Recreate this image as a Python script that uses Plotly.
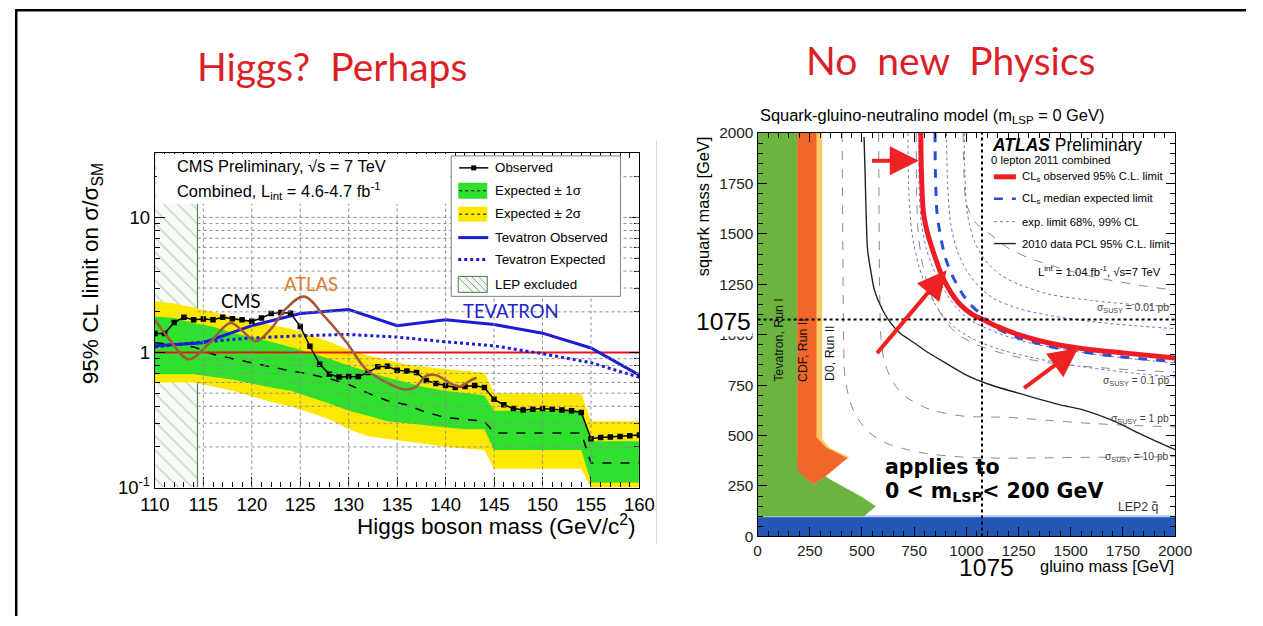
import math
import plotly.graph_objects as go

W, H = 1263, 626
# the photographed page comes out slightly reduced and shifted; lay out in pre-compensated coordinates
S = 0.9735
OX, OY = 15.3, 7.5

# ======================= LEFT PANEL DATA (CMS Higgs) =======================
obs_mass = list(range(110, 161))
obs_limit = [1.38, 1.38, 1.67, 1.82, 1.75, 1.77, 1.75, 1.82, 1.78, 1.75,
             1.70, 1.80, 1.94, 1.98, 1.95, 1.56, 1.11, 0.82, 0.69, 0.66,
             0.665, 0.665, 0.71, 0.785, 0.79, 0.74, 0.73, 0.71, 0.62, 0.59,
             0.57, 0.55, 0.56, 0.57, 0.55, 0.45, 0.41, 0.385, 0.375, 0.38,
             0.385, 0.38, 0.376, 0.37, 0.36, 0.23, 0.235, 0.237, 0.239, 0.242, 0.245]

band_mass = [110, 112, 114, 116, 118, 120, 122, 124, 126, 128, 130, 132, 134, 136,
             138, 140, 142, 144, 145, 154, 155, 160]
yellow_up = [2.4, 2.3, 2.15, 2.0, 1.85, 1.7, 1.6, 1.5, 1.35, 1.2, 1.05, 0.95, 0.88, 0.82,
             0.78, 0.75, 0.73, 0.71, 0.5, 0.5, 0.31, 0.31]
green_up = [1.85, 1.8, 1.65, 1.55, 1.4, 1.3, 1.2, 1.1, 1.0, 0.9, 0.8, 0.72, 0.65, 0.6,
            0.55, 0.52, 0.5, 0.48, 0.37, 0.37, 0.22, 0.22]
exp_median = [1.18, 1.15, 1.1, 0.97, 0.9, 0.84, 0.78, 0.73, 0.69, 0.64, 0.58, 0.5, 0.44, 0.41,
              0.36, 0.33, 0.32, 0.31, 0.254, 0.254, 0.152, 0.152]
green_lo = [0.69, 0.69, 0.69, 0.66, 0.63, 0.59, 0.55, 0.52, 0.47, 0.42, 0.37, 0.34, 0.31, 0.30,
            0.29, 0.28, 0.27, 0.27, 0.19, 0.19, 0.109, 0.109]
yellow_lo = [0.6, 0.6, 0.6, 0.56, 0.52, 0.47, 0.43, 0.40, 0.36, 0.32, 0.27, 0.24, 0.23, 0.22,
             0.21, 0.20, 0.195, 0.19, 0.138, 0.138, 0.1, 0.1]

tev_mass = [110, 115, 120, 125, 130, 135, 140, 145, 150, 155, 160]
tev_obs = [1.12, 1.18, 1.58, 1.94, 2.08, 1.58, 1.75, 1.61, 1.39, 1.08, 0.68]
tev_exp = [1.10, 1.20, 1.28, 1.33, 1.36, 1.30, 1.20, 1.12, 0.98, 0.84, 0.655]

atlas_mass = [110, 111.5, 113.5, 115.5, 117.8, 119, 120.4, 122, 123.5, 125.4, 127.5,
              129.8, 131.8, 133.9, 135.6, 136.8, 138, 139, 140.7, 141.5, 142.7, 143.2]
atlas_limit = [1.75, 1.25, 0.89, 1.15, 1.65, 1.45, 1.21, 1.5, 2.1, 2.6, 1.85,
               1.18, 0.75, 0.6, 0.535, 0.55, 0.67, 0.68, 0.58, 0.56, 0.63, 0.65]

lep_edge = 114.4
sm_level = 1.0
left_xrange = [110, 160]
left_yrange = [0.1, 30]
left_xticks = [110, 115, 120, 125, 130, 135, 140, 145, 150, 155, 160]
left_yticks = [0.1, 1, 10]
left_yticktext = ['10<sup>-1</sup>', '1', '10']
left_yminor = [0.2, 0.3, 0.4, 0.5, 0.6, 0.7, 0.8, 0.9, 2, 3, 4, 5, 6, 7, 8, 9, 20, 30]
left_ygrid = [0.2, 0.3, 0.4, 0.5, 0.6, 0.7, 0.8, 0.9, 2, 3, 4, 5, 6, 7, 8, 9, 10, 20]

# ======================= RIGHT PANEL DATA (ATLAS SUSY) =======================
right_range = [0, 2000]
right_ticks = [0, 250, 500, 750, 1000, 1250, 1500, 1750, 2000]
ref_mass = 1075

obs_gl = [782, 785, 795, 815, 845, 880, 920, 970, 1030, 1090, 1150, 1250, 1350, 1450, 1550, 1700, 1850, 2000]
obs_sq = [2000, 1800, 1600, 1500, 1400, 1300, 1220, 1150, 1100, 1070, 1040, 1000, 970, 948, 932, 915, 900, 885]

exp_gl = [850, 852, 860, 878, 900, 930, 965, 1010, 1060, 1100, 1150, 1250, 1350, 1450, 1550, 1700, 1850, 2000]
exp_sq = [2000, 1800, 1600, 1480, 1380, 1300, 1230, 1160, 1110, 1068, 1030, 985, 955, 930, 915, 895, 880, 866]

m1s_gl = [772, 775, 785, 810, 845, 895, 955, 1025, 1100, 1200, 1300, 1450, 1600, 1800, 2000]
m1s_sq = [2000, 1700, 1550, 1420, 1320, 1220, 1130, 1070, 1030, 990, 960, 930, 905, 880, 860]
p1s_gl = [905, 910, 925, 955, 1000, 1060, 1130, 1250, 1400, 1600, 1800, 2000]
p1s_sq = [2000, 1750, 1550, 1420, 1320, 1240, 1180, 1130, 1095, 1065, 1045, 1030]
m2s_gl = [720, 725, 740, 770, 810, 870, 940, 1030, 1150, 1300, 1500, 1750, 2000]
m2s_sq = [2000, 1700, 1500, 1350, 1230, 1120, 1040, 980, 930, 890, 850, 815, 790]
p2s_gl = [990, 993, 1005, 1040, 1090, 1160, 1250, 1400, 1600, 1800, 2000]
p2s_sq = [2000, 1800, 1600, 1460, 1370, 1300, 1250, 1200, 1170, 1150, 1140]

pcl_gl = [510, 515, 520, 527, 545, 560, 600, 640, 680, 750, 800, 900, 1000, 1100, 1250, 1450, 1550, 1700, 1850, 2000]
pcl_sq = [1980, 1800, 1600, 1420, 1300, 1220, 1120, 1055, 1010, 960, 923, 860, 800, 757, 710, 652, 630, 575, 500, 430]

xs10_gl = [405, 408, 412, 418, 440, 470, 530, 600, 700, 800, 1000, 1200, 1400, 1600, 2000]
xs10_sq = [2000, 1500, 1000, 800, 680, 600, 520, 470, 435, 412, 392, 388, 390, 392, 395]
xs1_gl = [580, 582, 585, 590, 605, 640, 700, 800, 900, 1000, 1200, 1400, 1600, 1800, 2000]
xs1_sq = [2000, 1600, 1200, 1000, 880, 780, 700, 640, 610, 595, 590, 575, 560, 550, 543]
xs01_gl = [760, 762, 770, 790, 830, 880, 950, 1050, 1200, 1400, 1600, 1800, 2000]
xs01_sq = [2000, 1700, 1500, 1350, 1200, 1100, 1010, 950, 900, 860, 840, 825, 815]
xs001_gl = [985, 988, 1000, 1040, 1100, 1200, 1300, 1450, 1612, 1800, 2000]
xs001_sq = [2000, 1800, 1650, 1560, 1510, 1430, 1380, 1330, 1286, 1250, 1220]

tevrun1_gl = [0, 0, 195, 195, 267, 326, 350, 494, 566, 510]
tevrun1_sq = [100, 2000, 2000, 331, 257, 298, 281, 199, 150, 100]
d0_gl = [190, 310, 310, 345, 440, 430, 190]
d0_sq = [2000, 2000, 480, 440, 392, 385, 400]
cdf_gl = [190, 282, 282, 300, 330, 430, 326, 267, 190]
cdf_sq = [2000, 2000, 490, 470, 440, 388, 298, 257, 331]
lep2_gl = [0, 2000, 2000, 0]
lep2_sq = [0, 0, 100, 100]

# ======================= helpers (target pixel -> paper) =======================
def px(x):
    return min(max(((x - OX) / S) / W, 0.0005), 0.9995)


def py(y):
    return 1 - min(max(((y - OY) / S) / H, 0.0008), 0.9992)


def fs(n):
    return n / S


XL = dict(xaxis='x', yaxis='y')
XR = dict(xaxis='x2', yaxis='y2')
ROOT = 'Liberation Sans'

fig = go.Figure()

# ---------------- left traces ----------------
fig.add_trace(go.Scatter(
    x=[left_xrange[0], lep_edge, lep_edge, left_xrange[0]],
    y=[left_yrange[0], left_yrange[0], left_yrange[1], left_yrange[1]],
    fill='toself', mode='lines', line=dict(width=0, color='rgba(0,0,0,0)'),
    fillcolor='white',
    fillpattern=dict(shape='\\', fgcolor='#86a386', bgcolor='#f7faf7', size=10, solidity=0.12),
    **XL))
fig.add_trace(go.Scatter(x=[lep_edge, lep_edge], y=left_yrange, mode='lines',
                         line=dict(color='#3f8a3f', width=1.2), **XL))
fig.add_trace(go.Scatter(x=band_mass + band_mass[::-1], y=yellow_up + yellow_lo[::-1],
                         fill='toself', fillcolor='#ffe800', mode='lines', line=dict(width=0), **XL))
fig.add_trace(go.Scatter(x=band_mass + band_mass[::-1], y=green_up + green_lo[::-1],
                         fill='toself', fillcolor='#2fe02f', mode='lines', line=dict(width=0), **XL))
fig.add_trace(go.Scatter(x=band_mass, y=exp_median, mode='lines',
                         line=dict(color='black', width=1.5, dash='dash'), **XL))
fig.add_trace(go.Scatter(x=left_xrange, y=[sm_level, sm_level], mode='lines',
                         line=dict(color='#e8141c', width=2), **XL))
fig.add_trace(go.Scatter(x=tev_mass, y=tev_exp, mode='lines',
                         line=dict(color='#1c1cd6', width=3, dash='dot'), **XL))
fig.add_trace(go.Scatter(x=tev_mass, y=tev_obs, mode='lines',
                         line=dict(color='#1c1cd6', width=3), **XL))
fig.add_trace(go.Scatter(x=obs_mass, y=obs_limit, mode='lines+markers',
                         line=dict(color='black', width=1.5),
                         marker=dict(symbol='square', size=5.5, color='black'), **XL))
fig.add_trace(go.Scatter(x=atlas_mass, y=atlas_limit, mode='lines',
                         line=dict(color='#a4583a', width=2.5, shape='spline', smoothing=1.0), **XL))

# ---------------- right traces ----------------
def poly(gx, gy, color):
    fig.add_trace(go.Scatter(x=gx, y=gy, fill='toself', fillcolor=color, mode='lines',
                             line=dict(width=0), **XR))


poly(lep2_gl, lep2_sq, '#2456b8')
fig.add_trace(go.Scatter(x=right_range, y=[lep2_sq[2], lep2_sq[2]], mode='lines',
                         line=dict(color='#a9cdf2', width=2), **XR))
poly(tevrun1_gl, tevrun1_sq, '#6cb33f')
poly(d0_gl, d0_sq, '#f8c868')
poly(cdf_gl, cdf_sq, '#f2662a')

for gx, gy in [(xs10_gl, xs10_sq), (xs1_gl, xs1_sq), (xs01_gl, xs01_sq), (xs001_gl, xs001_sq)]:
    fig.add_trace(go.Scatter(x=gx, y=gy, mode='lines',
                             line=dict(color='#8a8a8a', width=1, dash='dash', shape='spline', smoothing=0.8), **XR))
fig.add_trace(go.Scatter(x=pcl_gl, y=pcl_sq, mode='lines',
                         line=dict(color='#222222', width=1.4, shape='spline', smoothing=0.8), **XR))
for gx, gy in [(m2s_gl, m2s_sq), (m1s_gl, m1s_sq), (p1s_gl, p1s_sq), (p2s_gl, p2s_sq)]:
    fig.add_trace(go.Scatter(x=gx, y=gy, mode='lines',
                             line=dict(color='#6d6fd8', width=1, dash='dot', shape='spline', smoothing=0.8), **XR))
fig.add_trace(go.Scatter(x=exp_gl, y=exp_sq, mode='lines',
                         line=dict(color='#2a4fd6', width=3, dash='dash', shape='spline', smoothing=0.8), **XR))
fig.add_trace(go.Scatter(x=obs_gl, y=obs_sq, mode='lines',
                         line=dict(color='#ee1c25', width=5, shape='spline', smoothing=0.8), **XR))

# ---------------- shapes ----------------
shapes = []


def pline(x0, y0, x1, y1, color, width, dash=None):
    ln = dict(color=color, width=width)
    if dash:
        ln['dash'] = dash
    shapes.append(dict(type='line', xref='paper', yref='paper', x0=px(x0), x1=px(x1), y0=py(y0), y1=py(y1),
                       line=ln, layer='above'))


def prect(x0, y0, x1, y1, fill, lcolor=None, lwidth=0):
    shapes.append(dict(type='rect', xref='paper', yref='paper', x0=px(x0), x1=px(x1), y0=py(y0), y1=py(y1),
                       fillcolor=fill, line=dict(color=lcolor or fill, width=lwidth), layer='above'))


# slide border (as close to the edge as the page allows)
shapes.append(dict(type='line', xref='paper', yref='paper', x0=0.001, x1=0.001, y0=0, y1=1,
                   line=dict(color='black', width=2.5), layer='above'))
shapes.append(dict(type='line', xref='paper', yref='paper', x0=0, x1=1, y0=0.998, y1=0.998,
                   line=dict(color='black', width=2.5), layer='above'))
pline(656, 140, 656, 545, '#d8d8d8', 1)
# left grid (drawn above the bands like ROOT)
for xv in left_xticks[1:-1]:
    shapes.append(dict(type='line', xref='x', yref='y', x0=xv, x1=xv, y0=left_yrange[0], y1=left_yrange[1],
                       line=dict(color='#8c8c8c', width=1, dash='dot'), layer='above'))
for yv in left_ygrid:
    shapes.append(dict(type='line', xref='x', yref='y', x0=lep_edge, x1=left_xrange[1], y0=yv, y1=yv,
                       line=dict(color='#8c8c8c', width=1, dash='dot'), layer='above'))
# header box and legend box
prect(157, 153, 450, 203, 'white')
prect(451, 155, 620, 296, 'white', '#808080', 1)
# legend samples left
pline(459, 167, 488, 167, 'black', 1.5)
prect(471, 164.5, 476, 169.5, 'black')
prect(458, 182, 487, 198, '#2fe02f')
pline(459, 190, 486, 190, 'black', 1, 'dot')
prect(458, 206, 487, 221, '#ffe800')
pline(459, 213.5, 486, 213.5, 'black', 1, 'dot')
pline(458, 237, 488, 237, '#1c1cd6', 3)
pline(458, 259, 488, 259, '#1c1cd6', 3, 'dot')
prect(458, 276, 487, 292, '#f4f8f4', '#3f7f3f', 1)
for k in range(5):
    x0 = 458 + k * 7
    x1 = min(x0 + 15, 487)
    pline(x0, 277, x1, 277 + 15 * (x1 - x0) / 15, '#86a386', 1)
# right dotted reference lines
shapes.append(dict(type='line', xref='x2', yref='y2', x0=right_range[0], x1=right_range[1], y0=ref_mass, y1=ref_mass,
                   line=dict(color='black', width=2, dash='dot'), layer='above'))
shapes.append(dict(type='line', xref='x2', yref='y2', x0=ref_mass, x1=ref_mass, y0=right_range[0], y1=right_range[1],
                   line=dict(color='black', width=2, dash='dot'), layer='above'))
# right legend samples
pline(993, 176, 1015, 176, '#ee1c25', 5)
pline(993, 198, 1015, 198, '#2a4fd6', 2.5, 'dash')
pline(993, 221, 1015, 221, '#6d6fd8', 1, 'dot')
pline(993, 243, 1015, 243, '#222222', 1.4)

# ---------------- annotations ----------------
ann = []


def txt(x, y, s, size=13, color='black', family=ROOT, xanchor='left', angle=0, bg=None):
    d = dict(xref='paper', yref='paper', x=px(x), y=py(y), text=s, showarrow=False,
             font=dict(family=family, size=fs(size), color=color), xanchor=xanchor, yanchor='middle',
             textangle=angle)
    if bg:
        d['bgcolor'] = bg
    ann.append(d)


TITLE = 'Lato'
txt(332, 64, 'Higgs?  Perhaps', size=38, color='#dc1f26', family=TITLE, xanchor='center')
txt(950, 58, 'No  new  Physics', size=38, color='#dc1f26', family=TITLE, xanchor='center')

# left panel texts
txt(175, 165, 'CMS Preliminary, √s = 7 TeV', size=16)
txt(175, 190, 'Combined, L<sub>int</sub> = 4.6-4.7 fb<sup>-1</sup>', size=16)
txt(241, 301, 'CMS', size=18, family=TITLE, xanchor='center')
txt(311, 284, 'ATLAS', size=18, color='#e07a2e', family=TITLE, xanchor='center')
txt(511, 311, 'TEVATRON', size=18, color='#2222c8', family=TITLE, xanchor='center')
legL = ['Observed', 'Expected ± 1σ', 'Expected ± 2σ', 'Tevatron Observed', 'Tevatron Expected', 'LEP excluded']
legY = [167, 190, 213, 237, 259, 284]
for s, yy in zip(legL, legY):
    txt(493, yy, s, size=13)
txt(638, 526, 'Higgs boson mass (GeV/c<sup>2</sup>)', size=22, xanchor='right')
txt(93, 273, '95% CL limit on σ/σ<sub>SM</sub>', size=22, xanchor='center', angle=-90)

# right panel texts
txt(757, 115, 'Squark-gluino-neutralino model (m<sub>LSP</sub> = 0 GeV)', size=16)
txt(702, 206, 'squark mass [GeV]', size=16, xanchor='center', angle=-90)
txt(1175, 567, 'gluino mass [GeV]', size=16, xanchor='right')
txt(989, 144, '<b><i>ATLAS</i></b> Preliminary', size=17)
txt(988, 159, '0 lepton 2011 combined', size=11)
legR = ['CL<sub>s</sub> observed 95% C.L. limit', 'CL<sub>s</sub> median expected limit',
        'exp. limit 68%, 99% CL', '2010 data PCL 95% C.L. limit']
for s, yy in zip(legR, [176, 198, 221, 243]):
    txt(1019, yy, s, size=11)
txt(1162, 271, 'L<sup>int</sup> = 1.04 fb<sup>-1</sup>, √s=7 TeV', size=11, xanchor='right')
for s, yy in [('0.01', 308), ('0.1', 381), ('1', 420), ('10', 458)]:
    txt(1170, yy, 'σ<sub>SUSY</sub> = ' + s + ' pb', size=10, color='#444444', xanchor='right')
txt(1160, 507, 'LEP2 q\u0303', size=12, color='#333333', xanchor='right')
txt(882, 467, '<b>applies to</b>', size=20, family='DejaVu Sans')
txt(882, 492, '<b>0 < m<sub>LSP</sub>< 200 GeV</b>', size=20, family='DejaVu Sans')
txt(723, 321, '1075', size=24, xanchor='center', bg='white')
txt(986, 568, '1075', size=24, xanchor='center')

for lab, gx, gy in [('Tevatron, Run I', 101, 973), ('CDF, Run II', 221, 923), ('D0, Run II', 350, 908)]:
    ann.append(dict(xref='x2', yref='y2', x=gx, y=gy, text=lab, showarrow=False, textangle=-90,
                    font=dict(family=ROOT, size=fs(12), color='#111111')))

for hx, hy, ax, ay in [(772, 1862, -47, 0), (906, 1319, -69, 82), (1535, 933, -54, 40)]:
    ann.append(dict(xref='x2', yref='y2', x=hx, y=hy, ax=ax / S, ay=ay / S, text='', showarrow=True,
                    arrowhead=2, arrowsize=1.45, arrowwidth=4, arrowcolor='#ee2222'))

# ---------------- axes ----------------
common = dict(showline=True, linecolor='black', linewidth=1.2, mirror='ticks', ticks='inside',
              tickcolor='black', showgrid=False, zeroline=False)

fig.update_layout(
    width=W, height=H, autosize=False,
    margin=dict(l=0, r=0, t=0, b=0),
    paper_bgcolor='white', plot_bgcolor='white',
    showlegend=False, hovermode=False,
    font=dict(family=ROOT, color='black'),
    xaxis=dict(domain=[px(155), px(639)], range=left_xrange, anchor='y',
               tickmode='array', tickvals=left_xticks, ticklen=10,
               tickfont=dict(family=ROOT, size=fs(18), color='black'),
               minor=dict(dtick=1, ticklen=5, ticks='inside', tickcolor='black'), **common),
    yaxis=dict(domain=[py(488), py(152)], type='log',
               range=[math.log10(left_yrange[0]), math.log10(left_yrange[1])], anchor='x',
               tickmode='array', tickvals=left_yticks, ticktext=left_yticktext, ticklen=10,
               tickfont=dict(family=ROOT, size=fs(18), color='black'),
               minor=dict(tickmode='array', tickvals=left_yminor, ticklen=5, ticks='inside', tickcolor='black'),
               **common),
    xaxis2=dict(domain=[px(757), px(1174)], range=right_range, anchor='y2',
                tickmode='array', tickvals=right_ticks, ticklen=9,
                tickfont=dict(family=ROOT, size=fs(15), color='#222222'),
                minor=dict(dtick=50, ticklen=5, ticks='inside', tickcolor='black'), **common),
    yaxis2=dict(domain=[py(537), py(132)], range=right_range, anchor='x2',
                tickmode='array', tickvals=right_ticks, ticklen=9,
                tickfont=dict(family=ROOT, size=fs(15), color='#222222'),
                minor=dict(dtick=50, ticklen=5, ticks='inside', tickcolor='black'), **common),
    shapes=shapes,
    annotations=ann,
)

fig.write_html("out.html", config={'displayModeBar': False},
               post_script="document.body.style.margin='0px';document.body.style.overflow='hidden';")
